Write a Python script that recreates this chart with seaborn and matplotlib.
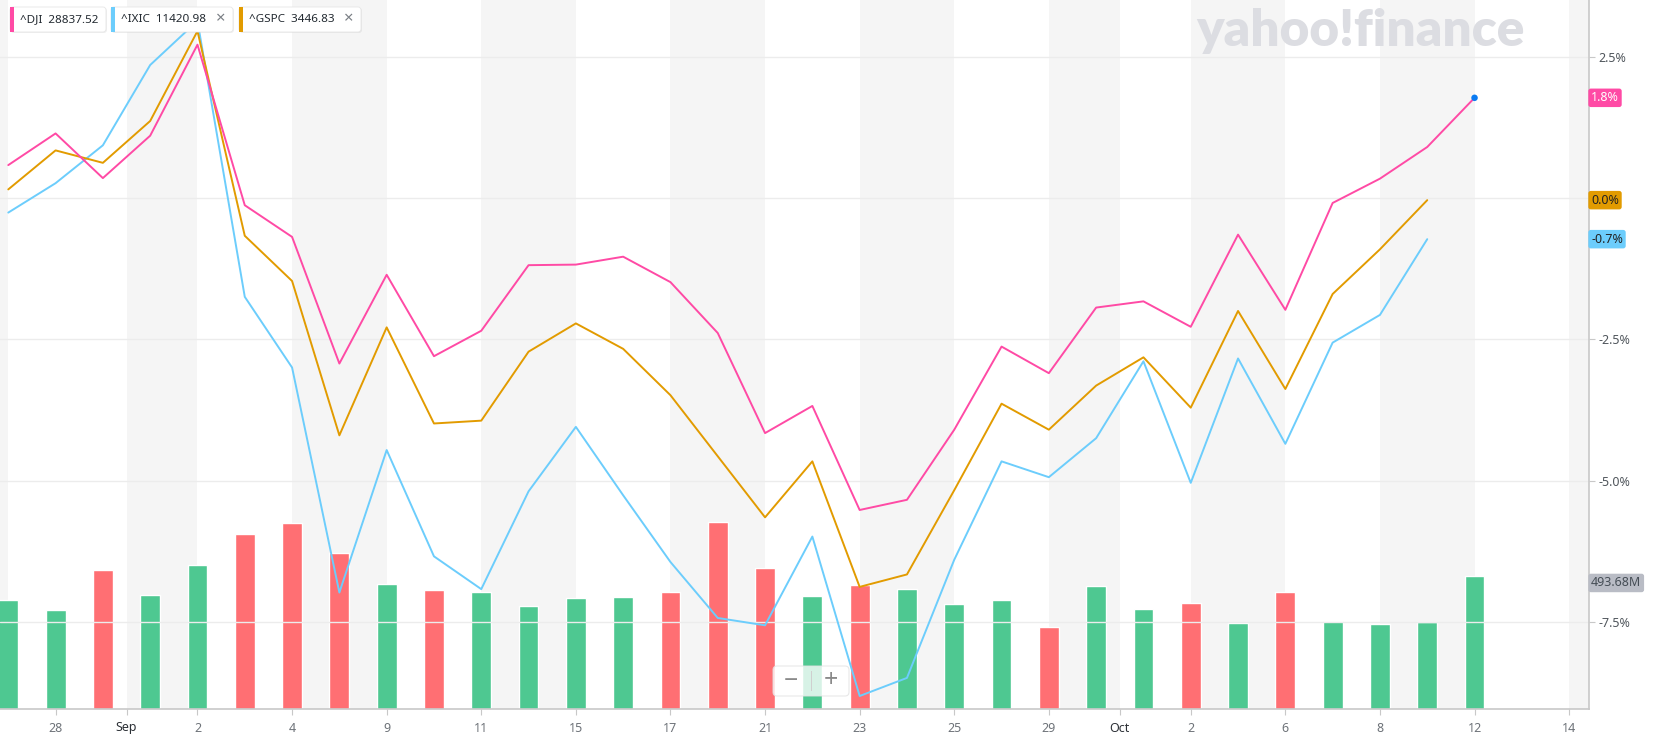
import numpy as np
import pandas as pd
import seaborn as sns
import matplotlib.pyplot as plt
from matplotlib.patches import FancyBboxPatch, Rectangle
from matplotlib.transforms import IdentityTransform, blended_transform_factory

# trading days, 27 Aug - 12 Oct 2020 (index 0..31)
dates = ['Aug 27', 'Aug 28', 'Aug 31', 'Sep 1', 'Sep 2', 'Sep 3', 'Sep 4', 'Sep 8',
         'Sep 9', 'Sep 10', 'Sep 11', 'Sep 14', 'Sep 15', 'Sep 16', 'Sep 17', 'Sep 18',
         'Sep 21', 'Sep 22', 'Sep 23', 'Sep 24', 'Sep 25', 'Sep 28', 'Sep 29', 'Sep 30',
         'Oct 1', 'Oct 2', 'Oct 5', 'Oct 6', 'Oct 7', 'Oct 8', 'Oct 9', 'Oct 12']

# % change
dji_pct = [0.58, 1.14, 0.35, 1.10, 2.71, -0.13, -0.69, -2.93, -1.36, -2.80, -2.35,
           -1.19, -1.18, -1.04, -1.49, -2.39, -4.16, -3.68, -5.52, -5.34, -4.10,
           -2.63, -3.10, -1.94, -1.83, -2.28, -0.65, -1.98, -0.09, 0.34, 0.90, 1.77]
ixic_pct = [-0.26, 0.26, 0.93, 2.35, 3.13, -1.75, -3.00, -6.98, -4.46, -6.34, -6.92,
            -5.19, -4.05, -5.26, -6.44, -7.43, -7.56, -5.99, -8.81, -8.49, -6.40,
            -4.66, -4.94, -4.25, -2.89, -5.04, -2.84, -4.35, -2.56, -2.07, -0.73]
gspc_pct = [0.15, 0.84, 0.62, 1.36, 2.95, -0.67, -1.47, -4.20, -2.29, -3.99, -3.94,
            -2.72, -2.22, -2.67, -3.49, -4.57, -5.65, -4.66, -6.88, -6.66, -5.17,
            -3.64, -4.10, -3.32, -2.82, -3.71, -2.00, -3.38, -1.70, -0.91, -0.04]

# volume in millions
volume_m = [404, 369, 517, 424, 536, 649, 692, 579, 463, 443, 435, 381, 412, 416,
            435, 696, 525, 420, 459, 447, 389, 404, 303, 455, 373, 393, 319, 435,
            327, 315, 323, 493.68]
direction = ['up', 'up', 'down', 'up', 'up', 'down', 'down', 'down', 'up', 'down',
             'up', 'up', 'up', 'up', 'down', 'down', 'down', 'up', 'down', 'up', 'up',
             'up', 'down', 'up', 'up', 'down', 'up', 'down', 'up', 'up', 'up', 'up']

tick_pos = [1, 2.5, 4, 6, 8, 10, 12, 14, 16, 18, 20, 22, 23.5, 25, 27, 29, 31, 33]
tick_labels = ['28', 'Sep', '2', '4', '9', '11', '15', '17', '21', '23', '25', '29',
               'Oct', '2', '6', '8', '12', '14']

legend_items = [('^DJI', '28837.52'), ('^IXIC', '11420.98'), ('^GSPC', '3446.83')]

DJI_C = '#ff4aa5'
IXIC_C = '#6ccdfc'
GSPC_C = '#e29b00'
UP_C = '#4ec891'
DOWN_C = '#ff6f73'
BAND_C = '#f5f5f5'

W, H = 1653, 743

sns.set_style('white')
plt.rcParams['font.family'] = ['Noto Sans', 'DejaVu Sans']

df = pd.DataFrame({'day': np.arange(len(volume_m)), 'date': dates,
                   'volume': volume_m, 'direction': direction})

fig = plt.figure(figsize=(W / 100, H / 100), dpi=100)
fig.patch.set_facecolor('white')
ax_vol = fig.add_axes([0, 34 / H, 1589 / W, 709 / H])

# alternating gray bands between the date ticks
bands = [(-1, 0), (2.5, 4), (6, 8), (10, 12), (14, 16), (18, 20), (22, 23.5),
         (25, 27), (29, 31), (33, 35)]
for a, b in bands:
    ax_vol.axvspan(a, b, color=BAND_C, lw=0, zorder=0)

sns.barplot(data=df, x='day', y='volume', hue='direction',
            palette={'up': UP_C, 'down': DOWN_C}, native_scale=True, dodge=False,
            width=0.42, saturation=1, legend=False, ax=ax_vol, zorder=2)
ax_vol.set_ylim(0, 2632)
ax_vol.set_xlim(-0.175, 33.42)
ax_vol.set_yticks([])
ax_vol.set_xlabel('')
ax_vol.set_ylabel('')
ax_vol.set_xticks(tick_pos)
ax_vol.set_xticklabels(tick_labels)
ax_vol.tick_params(axis='x', length=4, width=0.8, color='#c8c8c8', pad=5,
                   labelsize=9, labelcolor='#6e7379', bottom=True)
for lab in ax_vol.get_xticklabels():
    if lab.get_text() in ('Sep', 'Oct'):
        lab.set_color('#2c3036')
for s in ax_vol.spines.values():
    s.set_visible(False)
ax_vol.spines['bottom'].set_visible(True)
ax_vol.spines['bottom'].set_color('#c8c8c8')
ax_vol.spines['bottom'].set_linewidth(1.2)

# price lines
ax = ax_vol.twinx()
ax.set_ylim(-9.04, 3.50)
ax.grid(axis='y', color='#ececec', lw=1)
ax.set_axisbelow(True)
for series, col in [(ixic_pct, IXIC_C), (gspc_pct, GSPC_C), (dji_pct, DJI_C)]:
    sns.lineplot(x=np.arange(len(series)), y=series, color=col, linewidth=1.4,
                 ax=ax, zorder=3)
ax.scatter([len(dji_pct) - 1], [dji_pct[-1]], s=22, color='#0a7bf2', zorder=4,
           edgecolors='none')
ax.set_yticks([-7.5, -5.0, -2.5, 0.0, 2.5])
# the 0.0% tick label is covered by the S&P last-value tag
ax.set_yticklabels(['-7.5%', '-5.0%', '-2.5%', '', '2.5%'])
ax.tick_params(axis='y', length=4, width=0.8, color='#c8c8c8', pad=3,
               labelsize=9, labelcolor='#50565c')
ax.set_ylabel('')
for s in ax.spines.values():
    s.set_visible(False)
ax.spines['right'].set_visible(True)
ax.spines['right'].set_color('#c8c8c8')
ax.spines['right'].set_linewidth(1.2)

# last-value labels on the right axis
tr = blended_transform_factory(ax.transAxes, ax.transData)
last = [(dji_pct[-1], '1.8%', DJI_C, 'white'),
        (gspc_pct[-1], '0.0%', GSPC_C, '#222222'),
        (ixic_pct[-1], '-0.7%', IXIC_C, '#222222')]
for val, txt, bg, fg in last:
    ax.annotate(txt, xy=(1, val), xycoords=tr, xytext=(1.5, 0),
                textcoords='offset points', ha='left', va='center', fontsize=9,
                color=fg, annotation_clip=False, zorder=10,
                bbox=dict(boxstyle='round,pad=0.22,rounding_size=0.2', fc=bg, ec='none'))
trv = blended_transform_factory(ax_vol.transAxes, ax_vol.transData)
ax.annotate('493.68M', xy=(1, volume_m[-1]), xycoords=trv, xytext=(1.5, -5),
            textcoords='offset points', ha='left', va='center', fontsize=9,
            color='#464e56', annotation_clip=False, zorder=10,
            bbox=dict(boxstyle='round,pad=0.22,rounding_size=0.2', fc='#b9bcc5', ec='none'))

# watermark
fig.text(1196 / W, 1 - 46 / H, 'yahoo!finance', fontsize=37, fontweight='heavy',
         family=['Lato', 'DejaVu Sans'], color='#dcdde2', ha='left', va='baseline')

# legend chips
idt = IdentityTransform()
chips = [(10, 106, DJI_C, False), (111, 233, IXIC_C, True), (239, 361, GSPC_C, True)]
for (x0, x1, col, closable), (sym, val) in zip(chips, legend_items):
    fig.add_artist(FancyBboxPatch((x0 + 1, H - 32 - 1), x1 - x0, 25,
                                  boxstyle='round,pad=0,rounding_size=3',
                                  fc='#000000', alpha=0.06, ec='none', transform=idt))
    fig.add_artist(FancyBboxPatch((x0, H - 32), x1 - x0, 25,
                                  boxstyle='round,pad=0,rounding_size=3',
                                  fc='white', ec='#e6e6e6', lw=0.6, transform=idt))
    fig.add_artist(Rectangle((x0, H - 32), 3.5, 25, fc=col, ec='none', transform=idt))
    fig.text((x0 + 10) / W, 1 - 19.5 / H, sym + '  ' + val, fontsize=8.4,
             color='#232a31', ha='left', va='center')
    if closable:
        fig.text((x1 - 12) / W, 1 - 19.5 / H, '\u00d7', fontsize=12,
                 color='#7a7f85', ha='center', va='center')

# zoom control
fig.add_artist(FancyBboxPatch((773, H - 696), 76, 30,
                              boxstyle='round,pad=0,rounding_size=4',
                              fc='white', alpha=0.78, ec='#e2e2e2', lw=0.8, transform=idt))
fig.text(791 / W, 1 - 681 / H, '\u2212', fontsize=18, fontweight='bold',
         color='#8a8a8a', ha='center', va='center')
fig.text(831 / W, 1 - 681 / H, '+', fontsize=18, fontweight='bold',
         color='#8a8a8a', ha='center', va='center')
fig.add_artist(Rectangle((811, H - 691), 1, 20, fc='#cfcfcf', ec='none', transform=idt))

fig.savefig('out.png', dpi=100)
